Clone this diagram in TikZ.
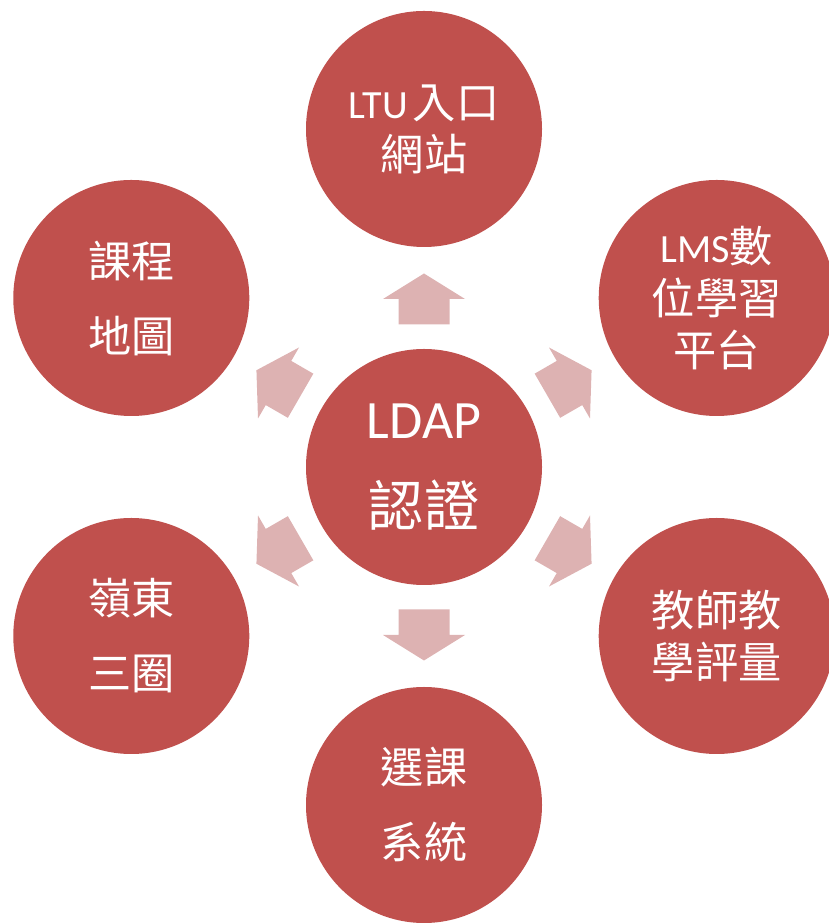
\documentclass[tikz,border=0pt]{standalone}
\usepackage{fontspec}
\usetikzlibrary{calc}
\setmainfont{Carlito}
\newfontfamily\cjk[Scale=1.08]{Noto Sans CJK TC}
\definecolor{circ}{RGB}{192,80,77}
\definecolor{arrowfill}{RGB}{221,178,178}
\tikzset{
  bubble/.style={circle, fill=circ, minimum size=236pt, inner sep=0pt, text=white, align=center},
  tight/.style={font=\fontsize{40}{52}\selectfont},
  loose/.style={font=\fontsize{40}{75}\selectfont},
  hub/.style={font=\fontsize{54}{88}\selectfont},
  blockarrow/.style={fill=arrowfill}
}
\begin{document}
\begin{tikzpicture}[x=1pt,y=1pt]
\path[use as bounding box, clip] (0,0) rectangle (829,923);
\coordinate (C) at (424,456);
\node[bubble, hub] (ldap) at (C) {LDAP\\{\cjk\fontsize{51}{88}\selectfont 認證}};
\node[bubble, tight] (ltu) at ($(C)+(90:338)$) {LTU\hspace{5pt}{\cjk 入口}\\{\cjk 網站}};
\node[bubble, tight] (lms) at ($(C)+(30:338)$) {LMS{\cjk 數}\\{\cjk 位學習}\\{\cjk 平台}};
\node[bubble, tight] (eval) at ($(C)+(-30:338)$) {{\cjk 教師教}\\{\cjk 學評量}};
\node[bubble, loose] (sel) at ($(C)+(-90:338)$) {{\cjk 選課}\\{\cjk 系統}};
\node[bubble, loose] (ling) at ($(C)+(-150:338)$) {{\cjk 嶺東}\\{\cjk 三圈}};
\node[bubble, loose] (map) at ($(C)+(150:338)$) {{\cjk 課程}\\{\cjk 地圖}};
\foreach \a in {90,30,-30,-90,-150,150}{
  \begin{scope}[shift={(C)}, rotate=\a]
    \fill[blockarrow] (142.5,-25.5) -- (168,-25.5) -- (168,-41) -- (193.5,0)
      -- (168,41) -- (168,25.5) -- (142.5,25.5) -- cycle;
  \end{scope}
}
\end{tikzpicture}
\end{document}
